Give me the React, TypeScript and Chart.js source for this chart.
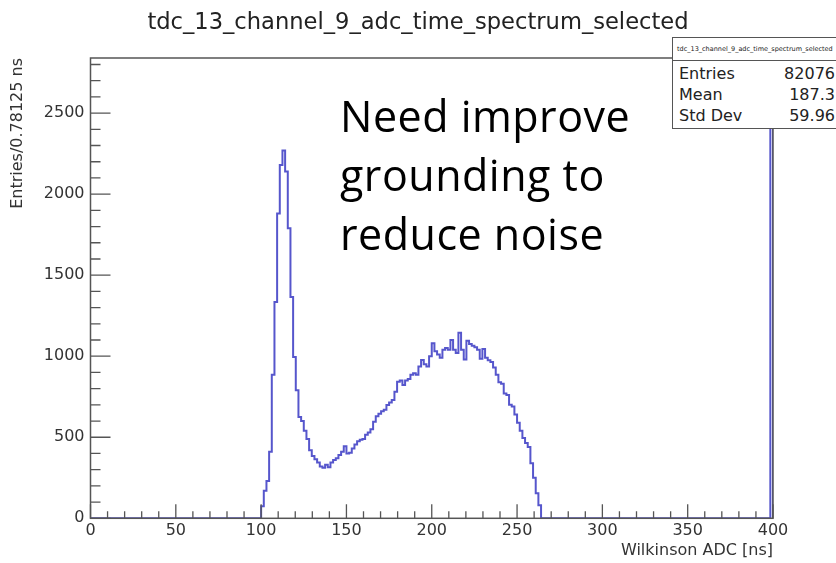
import React, { useEffect, useRef } from "react";
import { Chart, registerables } from "chart.js";

Chart.register(...registerables);

// ---- data ----
const chartTitle = "tdc_13_channel_9_adc_time_spectrum_selected";
const xAxisTitle = "Wilkinson ADC [ns]";
const yAxisTitle = "Entries/0.78125 ns";
const xRange = [0, 400];
const yRange = [0, 2840];
const xTickLabels = [0, 50, 100, 150, 200, 250, 300, 350, 400];
const yTickLabels = [0, 500, 1000, 1500, 2000, 2500];
const xMajorStep = 50;
const xMinorStep = 10;
const yMajorStep = 500;
const yMinorStep = 100;
const yMinorMax = 2800;
const binWidth = 1.5625; // ns
const firstFilledBinStart = 100; // ns
const counts = [
  75, 170, 230, 410, 885, 1335, 1880, 2180, 2270, 2140,
  1790, 1365, 995, 790, 625, 600, 540, 490, 420, 385,
  365, 345, 320, 312, 330, 315, 345, 360, 370, 390,
  410, 445, 400, 405, 430, 455, 475, 485, 490, 515,
  530, 550, 595, 630, 645, 660, 670, 699, 715, 730,
  781, 843, 850, 823, 850, 860, 885, 895, 885, 936,
  977, 950, 936, 1000, 1080, 1030, 1010, 990, 1040, 1050,
  1040, 1100, 1040, 1020, 1145, 1040, 980, 1095, 1075, 1065,
  1055, 1040, 985, 1045, 990, 975, 965, 930, 885, 840,
  830, 770, 760, 700, 690, 640, 590, 540, 495, 465,
  440, 340, 250, 155, 80,
];
const lastBinStart = 398.4375;
const lastBinCount = 3000;
const statsLabels = ["Entries", "Mean", "Std Dev"];
const statsValues = ["82076", "187.3", "59.96"];
const noteLines = ["Need improve", "grounding to", "reduce noise"];

const AXIS_FONT = "'DejaVu Sans', sans-serif";

function buildPoints() {
  const pts: { x: number; y: number }[] = [{ x: xRange[0], y: 0 }];
  counts.forEach((c, i) => pts.push({ x: firstFilledBinStart + i * binWidth, y: c }));
  pts.push({ x: firstFilledBinStart + counts.length * binWidth, y: 0 });
  pts.push({ x: lastBinStart, y: lastBinCount });
  pts.push({ x: xRange[1], y: 0 });
  return pts;
}

const framePlugin = {
  id: "rootFrame",
  afterDatasetsDraw(chart: any) {
    const { ctx, chartArea } = chart;
    const { left, right, top, bottom } = chartArea;
    const x = chart.scales.x;
    const y = chart.scales.y;
    ctx.save();
    ctx.strokeStyle = "#555";
    ctx.lineWidth = 1.5;
    ctx.strokeRect(left, top, right - left, bottom - top);
    ctx.lineWidth = 1.3;
    ctx.beginPath();
    for (let v = xRange[0]; v <= xRange[1]; v += xMinorStep) {
      const px = x.getPixelForValue(v);
      const len = v % xMajorStep === 0 ? 14 : 7;
      ctx.moveTo(px, bottom);
      ctx.lineTo(px, bottom - len);
    }
    for (let v = 0; v <= yMinorMax; v += yMinorStep) {
      const py = y.getPixelForValue(v);
      const len = v % yMajorStep === 0 ? 20 : 10;
      ctx.moveTo(left, py);
      ctx.lineTo(left + len, py);
    }
    ctx.stroke();
    ctx.restore();
  },
};

export default function App() {
  const canvasRef = useRef<HTMLCanvasElement | null>(null);

  useEffect(() => {
    document.body.style.margin = "0";
    const canvas = canvasRef.current;
    if (!canvas) return;
    const chart = new Chart(canvas, {
      type: "line",
      data: {
        datasets: [
          {
            data: buildPoints(),
            borderColor: "#5656cc",
            borderWidth: 2,
            pointRadius: 0,
            stepped: true,
            fill: false,
            tension: 0,
          },
        ],
      },
      options: {
        animation: false,
        responsive: false,
        devicePixelRatio: 1,
        parsing: false as any,
        layout: { padding: { left: 0, top: 58, right: 63, bottom: 0 } },
        plugins: { legend: { display: false }, tooltip: { enabled: false }, title: { display: false } },
        scales: {
          x: {
            type: "linear",
            min: xRange[0],
            max: xRange[1],
            afterBuildTicks: (s: any) => {
              s.ticks = xTickLabels.map((v) => ({ value: v }));
            },
            afterFit: (s: any) => {
              s.height = 44.7;
            },
            grid: { display: false, drawTicks: false },
            border: { display: false },
            ticks: {
              autoSkip: false,
              padding: 3,
              color: "#333",
              font: { family: AXIS_FONT, size: 16 },
              maxRotation: 0,
              callback: (v: any) => String(v),
            },
            title: {
              display: true,
              text: xAxisTitle,
              align: "end",
              color: "#333",
              font: { family: AXIS_FONT, size: 16 },
              padding: { top: 0, bottom: 3 },
            },
          },
          y: {
            type: "linear",
            min: yRange[0],
            max: yRange[1],
            afterBuildTicks: (s: any) => {
              s.ticks = yTickLabels.map((v) => ({ value: v }));
            },
            afterFit: (s: any) => {
              s.width = 90.5;
            },
            grid: { display: false, drawTicks: false },
            border: { display: false },
            ticks: {
              autoSkip: false,
              padding: 6,
              color: "#333",
              font: { family: AXIS_FONT, size: 16 },
              callback: (v: any) => String(v),
            },
            title: {
              display: true,
              text: yAxisTitle,
              align: "end",
              color: "#333",
              font: { family: AXIS_FONT, size: 16 },
              padding: { top: 8, bottom: 0 },
            },
          },
        },
      } as any,
      plugins: [framePlugin],
    });
    return () => chart.destroy();
  }, []);

  return (
    <div
      style={{
        position: "fixed",
        left: 0,
        top: 0,
        width: 836,
        height: 563,
        overflow: "hidden",
        background: "#fff",
      }}
    >
      <canvas ref={canvasRef} width={836} height={563} style={{ position: "absolute", left: 0, top: 0 }} />
      <div
        style={{
          position: "absolute",
          left: 0,
          width: 836,
          top: 7,
          textAlign: "center",
          fontFamily: AXIS_FONT,
          fontSize: 22.6,
          color: "#222",
          lineHeight: "28px",
        }}
      >
        {chartTitle}
      </div>
      <div
        style={{
          position: "absolute",
          left: 672,
          top: 37,
          width: 170,
          height: 92,
          border: "1.5px solid #555",
          boxSizing: "border-box",
          background: "#fff",
          fontFamily: AXIS_FONT,
          color: "#222",
        }}
      >
        <div
          style={{
            height: 22,
            borderBottom: "1.5px solid #555",
            fontSize: 6.5,
            lineHeight: "22px",
            paddingLeft: 4,
            whiteSpace: "nowrap",
            overflow: "hidden",
          }}
        >
          {chartTitle}
        </div>
        {statsLabels.map((lab, i) => (
          <div
            key={lab}
            style={{
              position: "absolute",
              left: 6,
              width: 156,
              top: 26 + i * 21,
              fontSize: 16,
              lineHeight: "20px",
              display: "flex",
              justifyContent: "space-between",
            }}
          >
            <span>{lab}</span>
            <span>{statsValues[i]}</span>
          </div>
        ))}
      </div>
      <div
        style={{
          position: "absolute",
          left: 340,
          top: 86,
          fontFamily: "'Open Sans', sans-serif",
          fontSize: 43,
          letterSpacing: "0.5px",
          lineHeight: "59px",
          color: "#000",
          whiteSpace: "nowrap",
        }}
      >
        {noteLines.map((l) => (
          <div key={l}>{l}</div>
        ))}
      </div>
    </div>
  );
}
